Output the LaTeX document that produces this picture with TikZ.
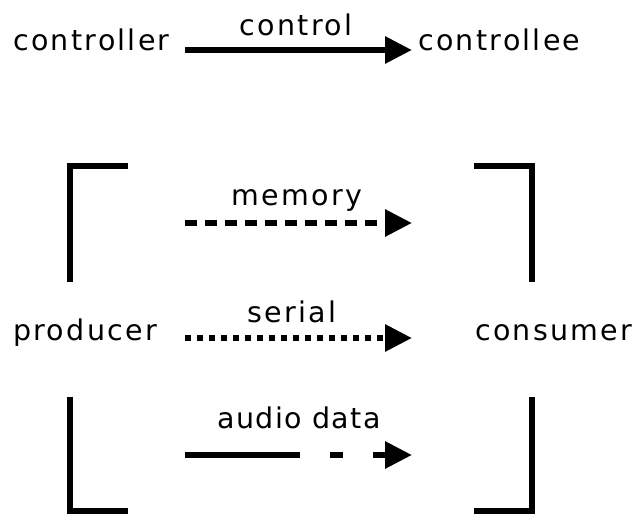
\documentclass[tikz,border=0pt]{standalone}
\usepackage{fontspec}
\setmainfont{DejaVu Sans}[LetterSpace=8]
\usetikzlibrary{arrows.meta}
\begin{document}
\begin{tikzpicture}[x=1pt,y=-1pt,
  lbl/.style={inner sep=0pt, font=\fontsize{28.5}{30}\selectfont},
  conn/.style={line width=6pt, -{Triangle[length=27pt,width=26pt]}},
  brk/.style={line width=6pt, line cap=butt, line join=miter}]
\fill[white] (0,0) rectangle (639,514);
\useasboundingbox (0,0) rectangle (639,514);
% top row
\node[lbl, anchor=base west] (controller) at (13,50) {controller};
\node[lbl, anchor=base west] (controllee) at (418,50) {controllee};
\coordinate (c1) at (185,50);
\coordinate (c2) at (412,50);
\draw[conn] (c1) -- (c2);
\node[lbl, anchor=base] (controllbl) at (296,35) {control};
% producer / consumer
\node[lbl, anchor=base west] (producer) at (13,340) {producer};
\node[lbl, anchor=base west] (consumer) at (475,340) {consumer};
% memory
\coordinate (m1) at (185,223);
\coordinate (m2) at (412,223);
\draw[conn, dash pattern=on 12pt off 8pt] (m1) -- (m2);
\node[lbl, anchor=base] (memorylbl) at (297,205) {memory};
% serial
\coordinate (s1) at (185,338);
\coordinate (s2) at (412,338);
\draw[conn, dash pattern=on 6pt off 6pt] (s1) -- (s2);
\node[lbl, anchor=base] (seriallbl) at (292,322) {serial};
% audio data
\coordinate (a1) at (185,455);
\coordinate (a2) at (412,455);
\draw[conn, dash pattern=on 115pt off 30pt on 13pt off 30pt on 200pt] (a1) -- (a2);
\node[lbl, anchor=base] (audiolbl) at (299,428) {\addfontfeature{LetterSpace=5}audio data};
% brackets
\draw[brk] (127.7,166.3) -- (69.7,166.3) -- (69.7,281.7);
\draw[brk] (69.7,396.7) -- (69.7,511.3) -- (127.7,511.3);
\draw[brk] (474,166.3) -- (532,166.3) -- (532,281.7);
\draw[brk] (532,396.7) -- (532,511.3) -- (474,511.3);
\end{tikzpicture}
\end{document}
